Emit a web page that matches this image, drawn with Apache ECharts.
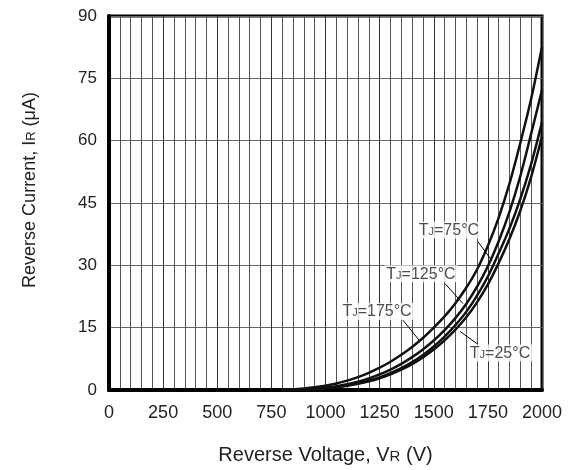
<!DOCTYPE html>
<html>
<head>
<meta charset="utf-8">
<script src="https://cdn.jsdelivr.net/npm/echarts@6/dist/echarts.min.js"></script>
<style>
  html, body { margin: 0; padding: 0; background: #fff; }
  #chart { width: 569px; height: 470px; }
</style>
</head>
<body>
<div id="chart"></div>
<script>
// reverse voltage (V)
const voltage = [800, 850, 900, 950, 1000, 1050, 1100, 1150, 1200, 1250, 1300, 1350, 1400,
  1450, 1500, 1550, 1600, 1650, 1700, 1750, 1800, 1850, 1900, 1950, 2000]
// reverse current (uA) per junction temperature
const ir175 = [0, 0.12, 0.35, 0.65, 1.05, 1.56, 2.25, 3.09, 4.13, 5.36, 6.81, 8.48, 10.35,
  12.5, 15.0, 17.7, 20.9, 24.6, 29.0, 34.7, 41.5, 49.7, 59.5, 70.1, 82.6]
const ir125 = [0, 0.06, 0.18, 0.35, 0.58, 0.91, 1.38, 1.99, 2.77, 3.74, 4.9, 6.29, 7.92,
  9.77, 11.9, 14.4, 17.3, 20.7, 24.85, 29.8, 35.8, 42.9, 51.5, 61.7, 72.2]
const ir75 = [0, 0.04, 0.13, 0.27, 0.45, 0.72, 1.09, 1.59, 2.24, 3.05, 4.04, 5.24, 6.7,
  8.43, 10.46, 12.84, 15.6, 18.8, 22.7, 27.3, 32.9, 38.9, 46.0, 54.4, 64.4]
const ir25 = [0, 0.04, 0.12, 0.24, 0.41, 0.66, 1.01, 1.48, 2.08, 2.84, 3.76, 4.88, 6.23,
  7.84, 9.72, 11.93, 14.5, 17.5, 21.1, 25.4, 30.6, 36.4, 43.2, 51.3, 61.0]

const xTicks = [0, 250, 500, 750, 1000, 1250, 1500, 1750, 2000]
const yTicks = [0, 15, 30, 45, 60, 75, 90]

// curve labels: text, label anchor (V, uA), arrow start, arrow end
const notes = [
  { temp: '75', at: [1570, 38.5], from: [1704, 35.7], to: [1769, 31.1] },
  { temp: '125', at: [1441, 28], from: [1552, 25.6], to: [1635, 20.8] },
  { temp: '175', at: [1238, 18.9], from: [1358, 16.8], to: [1432, 12.0] },
  { temp: '25', at: [1806, 8.9], from: [1704, 11.0], to: [1621, 14.1] },
]

const font = 'Liberation Sans, Arial, sans-serif'

function curve(name, vals) {
  return {
    name: name,
    type: 'line',
    smooth: 0.3,
    showSymbol: false,
    symbol: 'none',
    lineStyle: { color: '#111', width: 2.5 },
    data: voltage.map((v, i) => [v, vals[i]]),
  }
}

const chart = echarts.init(document.getElementById('chart'))
const option = {
  animation: false,
  backgroundColor: '#fff',
  textStyle: { fontFamily: font },
  grid: {
    left: 109,
    right: 27,
    top: 16,
    bottom: 78,
    show: true,
    borderColor: '#000',
    borderWidth: 3,
  },
  xAxis: {
    type: 'value',
    min: xTicks[0],
    max: xTicks[xTicks.length - 1],
    interval: 250,
    name: '{a|Reverse Voltage, V}{b|R}{a| (V)}',
    nameLocation: 'middle',
    nameGap: 55,
    nameTextStyle: {
      rich: {
        a: { fontSize: 20, color: '#222', fontFamily: font },
        b: { fontSize: 15, color: '#222', fontFamily: font, verticalAlign: 'bottom', padding: [0, 0, 1, 0] },
      },
    },
    axisLine: { show: true, lineStyle: { color: '#000', width: 4 } },
    axisTick: { show: false },
    axisLabel: { fontSize: 18, color: '#222', margin: 14, fontFamily: font, formatter: (v) => String(v) },
    splitLine: { show: true, lineStyle: { color: '#333', width: 1 } },
    minorTick: { show: false, splitNumber: 5 },
    minorSplitLine: { show: true, lineStyle: { color: '#555', width: 1 } },
  },
  yAxis: {
    type: 'value',
    min: yTicks[0],
    max: yTicks[yTicks.length - 1],
    interval: 15,
    name: '{a|Reverse Current, I}{b|R}{a| (μA)}',
    nameLocation: 'middle',
    nameGap: 70,
    nameTextStyle: {
      padding: [0, 0, 0, 26],
      rich: {
        a: { fontSize: 18, color: '#222', fontFamily: font },
        b: { fontSize: 13, color: '#222', fontFamily: font, verticalAlign: 'bottom', padding: [0, 0, 1, 0] },
      },
    },
    axisLine: { show: true, lineStyle: { color: '#000', width: 4 } },
    axisTick: { show: false },
    axisLabel: { fontSize: 17, color: '#222', margin: 12, fontFamily: font },
    splitLine: { show: true, lineStyle: { color: '#666', width: 1 } },
  },
  series: [
    curve('TJ=175°C', ir175),
    curve('TJ=125°C', ir125),
    curve('TJ=75°C', ir75),
    curve('TJ=25°C', ir25),
    {
      name: 'arrows',
      type: 'line',
      data: [],
      markLine: {
        silent: true,
        symbol: ['none', 'arrow'],
        symbolSize: [0, 8],
        label: { show: false },
        lineStyle: { color: '#000', width: 1, type: 'solid' },
        data: notes.map((n) => [{ coord: n.from }, { coord: n.to }]),
      },
    },
    {
      name: 'labels',
      type: 'scatter',
      symbolSize: 0,
      z: 5,
      data: notes.map((n) => ({ value: n.at, temp: n.temp })),
      label: {
        show: true,
        position: 'inside',
        backgroundColor: '#fff',
        padding: [1, 2, 0, 2],
        formatter: (p) => '{t|T}{s|J}{t|=' + p.data.temp + '°C}',
        rich: {
          t: { fontSize: 16, color: '#222', fontFamily: font },
          s: { fontSize: 11, color: '#222', fontFamily: font, verticalAlign: 'bottom', padding: [0, 0, 1, 0] },
        },
      },
    },
  ],
}
chart.setOption(option)
</script>
</body>
</html>
